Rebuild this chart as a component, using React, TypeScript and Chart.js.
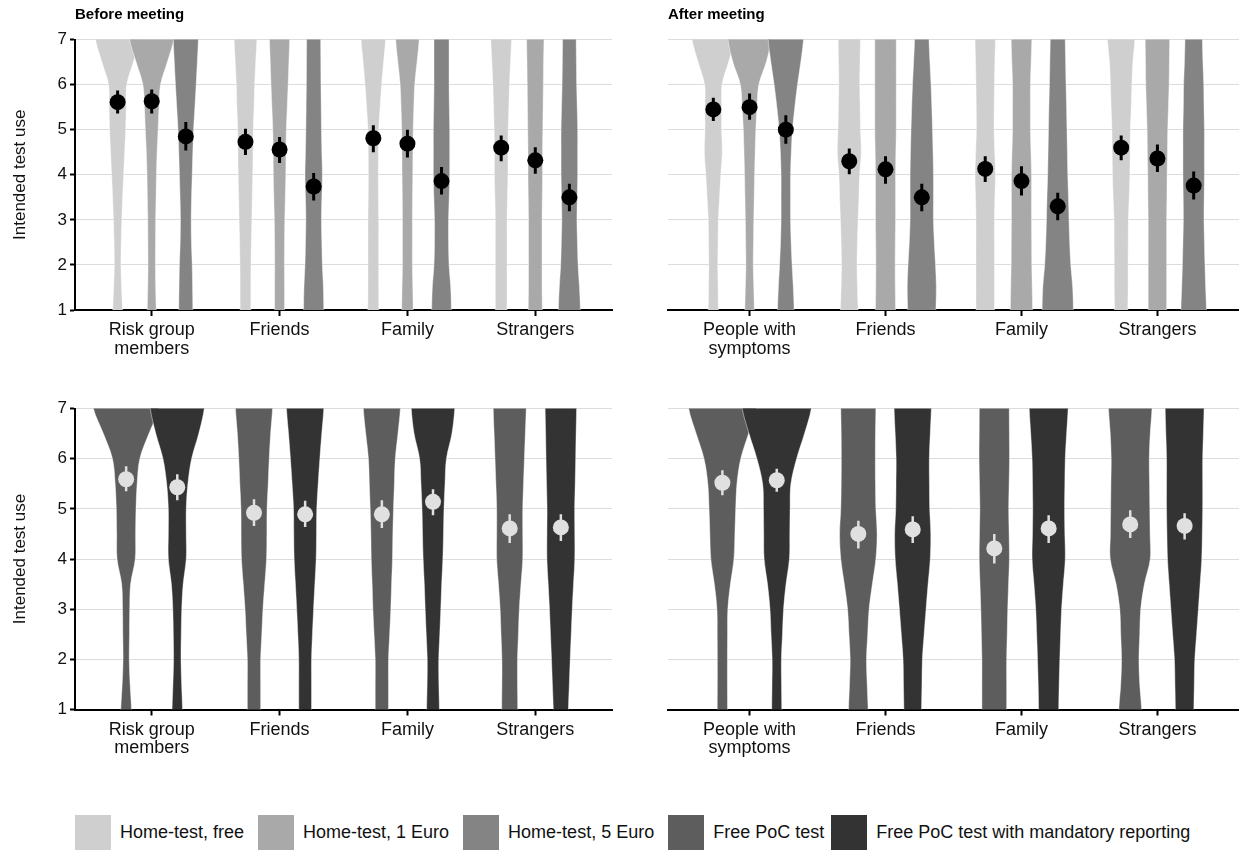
import React, { useEffect, useRef } from "react";
import { Chart, registerables } from "chart.js";

Chart.register(...registerables);
Chart.defaults.font.family = '"Liberation Sans", Arial, Helvetica, sans-serif';

// ---------- data ----------
const yLevels = [1, 1.5, 2, 2.5, 3, 3.5, 4, 4.5, 5, 5.5, 6, 6.5, 7];
const yTicks = [1, 2, 3, 4, 5, 6, 7];
const categoriesBefore = [["Risk group", "members"], "Friends", "Family", "Strangers"];
const categoriesAfter = [["People with", "symptoms"], "Friends", "Family", "Strangers"];
const homeGroups = ["Home-test, free", "Home-test, 1 Euro", "Home-test, 5 Euro"];
const pocGroups = ["Free PoC test", "Free PoC test with mandatory reporting"];
const homeColors = ["#cfcfcf", "#a9a9a9", "#848484"];
const pocColors = ["#5d5d5d", "#333333"];

// means / CI [group][category]
const beforeHomeMean = [[5.61, 4.73, 4.81, 4.6], [5.63, 4.56, 4.69, 4.32], [4.85, 3.74, 3.86, 3.5]];
const beforeHomeLow = [[5.36, 4.44, 4.5, 4.3], [5.36, 4.26, 4.38, 4.02], [4.54, 3.43, 3.56, 3.19]];
const beforeHomeHigh = [[5.87, 5.02, 5.1, 4.87], [5.89, 4.84, 5.0, 4.61], [5.17, 4.04, 4.17, 3.8]];

const afterHomeMean = [[5.45, 4.3, 4.13, 4.6], [5.5, 4.12, 3.86, 4.36], [5.0, 3.5, 3.3, 3.76]];
const afterHomeLow = [[5.19, 4.01, 3.84, 4.32], [5.22, 3.8, 3.54, 4.06], [4.69, 3.19, 2.99, 3.45]];
const afterHomeHigh = [[5.71, 4.58, 4.41, 4.87], [5.8, 4.41, 4.19, 4.67], [5.32, 3.8, 3.6, 4.07]];

const beforePocMean = [[5.59, 4.92, 4.89, 4.61], [5.43, 4.89, 5.14, 4.63]];
const beforePocLow = [[5.35, 4.66, 4.62, 4.32], [5.17, 4.64, 4.87, 4.36]];
const beforePocHigh = [[5.85, 5.19, 5.17, 4.89], [5.69, 5.16, 5.39, 4.89]];

const afterPocMean = [[5.52, 4.5, 4.21, 4.69], [5.57, 4.59, 4.61, 4.66]];
const afterPocLow = [[5.27, 4.21, 3.91, 4.42], [5.34, 4.32, 4.32, 4.39]];
const afterPocHigh = [[5.77, 4.76, 4.5, 4.97], [5.8, 4.85, 4.87, 4.91]];

// violin density (half-width, hundredths of a category) at each yLevel: [group][category][level]
const beforeHomeDensity = [
  [
    [3.8, 3.1, 2.6, 2.8, 3.3, 3.9, 4.7, 5.5, 6.3, 6.7, 7.1, 12.3, 17.3],
    [4.2, 4.2, 4.3, 4.6, 5.0, 5.3, 5.7, 5.9, 6.1, 6.7, 7.2, 8.0, 8.9],
    [4.3, 4.2, 4.2, 4.2, 4.2, 4.0, 3.9, 4.0, 4.2, 5.3, 6.5, 8.0, 9.6],
    [4.6, 4.6, 4.6, 4.6, 4.6, 4.9, 5.3, 5.3, 5.5, 6.0, 6.5, 7.3, 8.1],
  ],
  [
    [3.5, 3.1, 2.9, 3.0, 3.1, 3.4, 3.7, 4.2, 5.0, 5.7, 6.9, 12.2, 17.3],
    [3.9, 3.9, 3.8, 3.9, 4.1, 4.5, 4.9, 5.0, 5.3, 6.0, 6.7, 7.3, 7.9],
    [4.5, 4.2, 3.9, 3.9, 3.9, 4.0, 4.2, 4.3, 4.5, 5.0, 5.7, 7.5, 9.2],
    [5.5, 5.3, 5.3, 5.3, 5.3, 5.5, 5.7, 5.7, 5.9, 6.1, 6.3, 6.5, 6.8],
  ],
  [
    [5.5, 5.3, 5.0, 4.4, 4.2, 4.5, 5.0, 5.5, 6.1, 7.1, 8.1, 9.0, 9.8],
    [7.9, 7.6, 6.8, 6.4, 6.1, 6.4, 6.8, 6.4, 6.1, 5.9, 5.7, 5.6, 5.5],
    [7.7, 7.2, 5.9, 5.5, 5.5, 6.0, 6.4, 6.4, 6.4, 6.1, 5.9, 5.9, 5.9],
    [8.6, 7.9, 6.8, 6.3, 5.9, 6.2, 6.5, 6.5, 6.5, 6.1, 5.7, 5.5, 5.3],
  ],
];
const afterHomeDensity = [
  [
    [3.7, 3.5, 3.3, 3.5, 3.7, 4.6, 5.5, 6.6, 6.1, 6.2, 6.4, 11.2, 15.7],
    [6.5, 6.0, 5.7, 6.0, 6.5, 7.1, 7.6, 8.8, 8.3, 8.0, 7.7, 7.9, 8.2],
    [6.8, 6.8, 6.8, 6.8, 6.8, 7.1, 7.5, 7.0, 6.5, 6.6, 6.8, 7.1, 7.5],
    [4.9, 5.1, 5.1, 5.2, 5.3, 5.9, 6.4, 6.6, 6.8, 7.4, 7.9, 8.6, 10.1],
  ],
  [
    [3.5, 3.1, 2.7, 2.9, 3.1, 3.4, 3.7, 4.1, 4.6, 5.5, 6.8, 12.3, 15.9],
    [7.4, 7.2, 7.1, 7.2, 7.4, 7.4, 7.4, 7.6, 7.9, 7.9, 7.9, 7.9, 7.9],
    [8.2, 7.9, 7.6, 7.5, 7.4, 7.4, 7.4, 7.0, 6.6, 6.6, 6.6, 7.1, 7.6],
    [6.8, 6.8, 6.8, 6.8, 6.8, 7.0, 7.1, 7.4, 7.6, 8.1, 8.6, 8.8, 9.0],
  ],
  [
    [6.1, 5.5, 4.6, 3.9, 3.5, 3.5, 3.5, 4.0, 4.9, 6.6, 8.6, 11.0, 13.0],
    [10.4, 10.7, 10.1, 9.2, 8.6, 8.6, 8.6, 8.3, 7.9, 7.4, 6.8, 6.0, 5.3],
    [11.5, 11.0, 9.6, 8.8, 8.3, 7.9, 7.4, 7.1, 6.8, 6.5, 6.1, 5.8, 5.5],
    [9.4, 8.8, 8.3, 7.9, 7.6, 7.7, 7.9, 7.9, 7.9, 7.6, 7.4, 6.8, 6.4],
  ],
];
const beforePocDensity = [
  [
    [4.2, 3.1, 2.4, 2.6, 2.8, 3.5, 7.1, 7.4, 7.7, 8.6, 10.7, 17.8, 25.6],
    [5.2, 5.2, 5.2, 6.1, 7.0, 8.4, 9.8, 10.1, 10.2, 11.1, 11.9, 13.0, 14.5],
    [5.2, 5.2, 5.2, 6.1, 7.0, 7.6, 8.3, 8.6, 9.1, 9.8, 10.5, 12.6, 14.5],
    [6.3, 6.1, 6.1, 6.8, 7.5, 8.8, 10.2, 10.2, 10.2, 10.8, 11.5, 12.2, 12.9],
  ],
  [
    [4.1, 3.4, 2.9, 3.1, 3.5, 4.6, 7.0, 7.0, 7.0, 8.3, 11.2, 16.8, 21.1],
    [5.0, 5.0, 5.0, 5.7, 6.6, 7.6, 8.6, 8.9, 9.1, 10.2, 11.5, 13.0, 14.6],
    [5.0, 4.6, 4.5, 5.3, 6.1, 6.8, 7.7, 8.2, 8.6, 9.4, 10.5, 14.8, 17.0],
    [5.9, 6.6, 7.3, 8.1, 8.9, 9.9, 10.9, 10.9, 10.8, 11.2, 11.6, 11.9, 12.3],
  ],
];
const afterPocDensity = [
  [
    [3.8, 3.7, 3.7, 3.8, 4.0, 5.9, 8.5, 9.2, 9.8, 10.7, 13.5, 19.3, 24.8],
    [7.2, 6.5, 6.0, 6.9, 7.9, 10.3, 12.9, 13.8, 12.9, 12.6, 12.5, 12.6, 12.9],
    [9.1, 9.1, 9.1, 9.5, 9.9, 10.5, 11.1, 10.9, 10.6, 10.9, 11.2, 11.1, 11.0],
    [8.4, 7.0, 6.4, 7.0, 7.7, 10.4, 14.7, 14.6, 14.4, 14.2, 14.0, 14.7, 16.0],
  ],
  [
    [3.7, 3.5, 3.4, 4.2, 5.0, 6.8, 9.3, 9.6, 9.8, 10.4, 14.6, 20.4, 25.4],
    [6.5, 6.8, 7.1, 8.4, 9.8, 11.3, 12.9, 13.3, 12.5, 12.3, 12.2, 12.9, 13.7],
    [7.4, 7.7, 8.2, 8.8, 9.5, 10.8, 12.2, 11.9, 11.7, 11.9, 12.2, 13.2, 14.3],
    [6.8, 7.1, 7.5, 8.8, 10.1, 11.4, 12.6, 13.0, 13.3, 13.3, 13.3, 13.8, 14.3],
  ],
];

// ---------- drawing helpers ----------
const DODGE = 0.8;
const EXT = 0.3; // edge extension beyond the clipped axis range (keeps the trimmed ends flat)
const FONT_COLOR = "#111111";

function offsetFor(g: number, n: number) {
  return (g - (n - 1) / 2) * (DODGE / n);
}

function violinPoints(cx: number, dens: number[]) {
  const half = dens.map((d) => d / 100);
  const last = half.length - 1;
  const left = yLevels.map((y, i) => ({ x: cx - half[i], y }));
  const right = yLevels.map((y, i) => ({ x: cx + half[i], y })).reverse();
  return [
    { x: cx - half[0], y: yLevels[0] - EXT },
    ...left,
    { x: cx - half[last], y: yLevels[last] + EXT },
    { x: cx + half[last], y: yLevels[last] + EXT },
    ...right,
    { x: cx + half[0], y: yLevels[0] - EXT },
  ];
}

type PanelProps = {
  left: number;
  top: number;
  width: number;
  height: number;
  padTop: number;
  padRight: number;
  yWidth: number;
  xHeight: number;
  showY: boolean;
  title?: string;
  categories: (string | string[])[];
  colors: string[];
  mean: number[][];
  low: number[][];
  high: number[][];
  density: number[][][];
  dotColor: string;
  barWidth: number;
};

function Panel(p: PanelProps) {
  const ref = useRef<HTMLCanvasElement | null>(null);
  useEffect(() => {
    if (!ref.current) return;
    const n = p.colors.length;
    const datasets: any[] = [];
    p.colors.forEach((color, g) => {
      p.categories.forEach((_, c) => {
        datasets.push({
          type: "line",
          data: violinPoints(c + offsetFor(g, n), p.density[g][c]),
          fill: "shape",
          backgroundColor: color,
          borderColor: "rgba(255,255,255,0.55)",
          borderWidth: 0.8,
          pointRadius: 0,
          pointHitRadius: 0,
          tension: 0.35,
          order: 20 - g,
        });
      });
    });
    p.colors.forEach((_, g) => {
      p.categories.forEach((__, c) => {
        const cx = c + offsetFor(g, n);
        datasets.push({
          type: "line",
          data: [
            { x: cx, y: p.low[g][c] },
            { x: cx, y: p.high[g][c] },
          ],
          borderColor: p.dotColor,
          borderWidth: p.barWidth,
          borderCapStyle: "butt",
          pointRadius: 0,
          fill: false,
          order: 2,
        });
      });
      datasets.push({
        type: "line",
        showLine: false,
        data: p.categories.map((__, c) => ({ x: c + offsetFor(g, n), y: p.mean[g][c] })),
        pointRadius: 8,
        pointBackgroundColor: p.dotColor,
        pointBorderWidth: 0,
        pointStyle: "circle",
        order: 1,
      });
    });

    const chart = new Chart(ref.current, {
      type: "line",
      data: { datasets },
      options: {
        animation: false,
        responsive: false,
        events: [],
        layout: { autoPadding: false, padding: { top: p.padTop, right: p.padRight, left: 0, bottom: 0 } },
        plugins: {
          legend: { display: false },
          tooltip: { enabled: false },
          title: {
            display: !!p.title,
            text: p.title || "",
            align: "start",
            fullSize: false,
            color: "#000",
            font: { size: 15, weight: "bold" },
            padding: { top: 6, bottom: 15.5 },
          },
        },
        scales: {
          x: {
            type: "linear",
            min: -0.6,
            max: 3.6,
            afterBuildTicks: (s: any) => {
              s.ticks = p.categories.map((__, i) => ({ value: i }));
            },
            afterFit: (s: any) => {
              s.height = p.xHeight;
            },
            ticks: {
              autoSkip: false,
              maxRotation: 0,
              color: FONT_COLOR,
              padding: 5,
              font: { size: 18, lineHeight: 1.03 },
              callback: (v: any) => p.categories[v] as any,
            },
            grid: { drawOnChartArea: false, drawTicks: true, tickLength: 6, tickColor: "#000", tickWidth: 2 },
            border: { display: true, color: "#000", width: 2 },
          },
          y: {
            type: "linear",
            min: 1,
            max: 7,
            afterBuildTicks: (s: any) => {
              s.ticks = yTicks.map((v) => ({ value: v }));
            },
            afterFit: (s: any) => {
              s.width = p.yWidth;
            },
            ticks: { display: p.showY, color: FONT_COLOR, padding: 3, font: { size: 17 } },
            grid: {
              color: "#dcdcdc",
              lineWidth: 1,
              drawTicks: p.showY,
              tickLength: p.showY ? 5 : 0,
              tickColor: "#000",
              tickWidth: 2,
            },
            border: { display: p.showY, color: "#000", width: 2 },
            title: {
              display: p.showY,
              text: "Intended test use",
              color: FONT_COLOR,
              font: { size: 17 },
              padding: { top: 10, bottom: 0 },
            },
          },
        },
      } as any,
    });
    return () => chart.destroy();
  }, []);
  return (
    <canvas
      ref={ref}
      width={p.width}
      height={p.height}
      style={{ position: "absolute", left: p.left, top: p.top, width: p.width, height: p.height }}
    />
  );
}

const legendLabels = [...homeGroups, ...pocGroups];
const legendColors = [...homeColors, ...pocColors];

export default function App() {
  return (
    <div
      style={{
        position: "absolute",
        left: 0,
        top: 0,
        width: 1239,
        height: 851,
        background: "#fff",
        overflow: "hidden",
        fontFamily: '"Liberation Sans", Arial, Helvetica, sans-serif',
      }}
    >
      <Panel
        left={0} top={0} width={620} height={380} padTop={0} padRight={8} yWidth={75} xHeight={70}
        showY title="Before meeting" categories={categoriesBefore} colors={homeColors}
        mean={beforeHomeMean} low={beforeHomeLow} high={beforeHomeHigh} density={beforeHomeDensity}
        dotColor="#000000" barWidth={3}
      />
      <Panel
        left={620} top={0} width={619} height={380} padTop={0} padRight={0} yWidth={48} xHeight={70}
        showY={false} title="After meeting" categories={categoriesAfter} colors={homeColors}
        mean={afterHomeMean} low={afterHomeLow} high={afterHomeHigh} density={afterHomeDensity}
        dotColor="#000000" barWidth={3}
      />
      <Panel
        left={0} top={380} width={620} height={400} padTop={28.5} padRight={8} yWidth={75} xHeight={70.5}
        showY categories={categoriesBefore} colors={pocColors}
        mean={beforePocMean} low={beforePocLow} high={beforePocHigh} density={beforePocDensity}
        dotColor="#e0e0e0" barWidth={2.5}
      />
      <Panel
        left={620} top={380} width={619} height={400} padTop={28.5} padRight={0} yWidth={48} xHeight={70.5}
        showY={false} categories={categoriesAfter} colors={pocColors}
        mean={afterPocMean} low={afterPocLow} high={afterPocHigh} density={afterPocDensity}
        dotColor="#e0e0e0" barWidth={2.5}
      />
      <div style={{ position: "absolute", left: 75, top: 815, display: "flex", alignItems: "center" }}>
        {legendLabels.map((label, i) => (
          <div key={label} style={{ display: "flex", alignItems: "center", marginRight: i === 3 ? 7 : 14 }}>
            <div style={{ width: 36, height: 35, background: legendColors[i] }} />
            <span style={{ marginLeft: 9, fontSize: 18, color: FONT_COLOR, lineHeight: "35px", whiteSpace: "nowrap" }}>
              {label}
            </span>
          </div>
        ))}
      </div>
    </div>
  );
}
